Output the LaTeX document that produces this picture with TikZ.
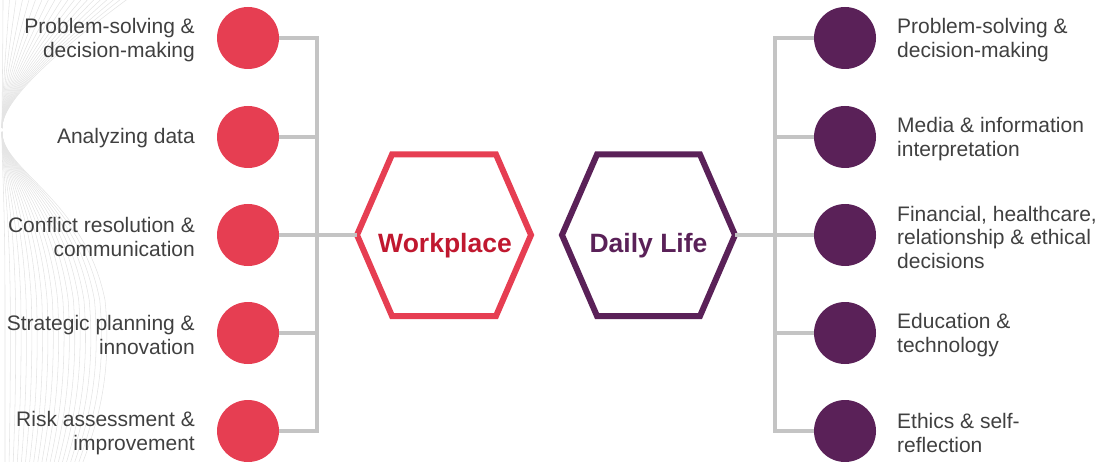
\documentclass[tikz,border=0pt]{standalone}
\usepackage{fontspec}
\setmainfont{Liberation Sans}
\definecolor{wred}{HTML}{E63E52}
\definecolor{wredtext}{HTML}{C0182F}
\definecolor{dpurple}{HTML}{5A2158}
\definecolor{linkgrey}{HTML}{C4C4C4}
\definecolor{labelgrey}{HTML}{404040}
\definecolor{wavegrey}{HTML}{E4E4E4}
\tikzset{
  dot/.style={circle, minimum size=62pt, inner sep=0pt},
  reddot/.style={dot, fill=wred},
  purpledot/.style={dot, fill=dpurple},
  link/.style={draw=linkgrey, line width=4pt, line join=miter},
  hexframe/.style={line width=6pt, line join=miter},
  label/.style={text=labelgrey, inner sep=0pt, font=\fontsize{21}{23.5}\selectfont},
  leftlabel/.style={label, anchor=east, align=right},
  rightlabel/.style={label, anchor=west, align=left},
  hubtitle/.style={inner sep=0pt, anchor=base, font=\fontsize{26.5}{30}\selectfont\bfseries},
  wave/.style={draw=wavegrey, line width=0.55pt}
}
\begin{document}
\begin{tikzpicture}[x=1pt,y=-1pt]
\useasboundingbox (0,0) rectangle (1107,462);

% faint line-art ribbon in the left margin
\begin{scope}
\clip (0,0) rectangle (1107,462);
\foreach \i in {0,...,19}{
  \pgfmathsetmacro{\s}{\i/19}
  \draw[wave] (2,128) .. controls (2,100) and ({3+55*\s},50) .. ({3+130*\s},-5);
  \draw[wave] (2,132) .. controls (2,170) and ({5+80*\s},200) .. ({5+100*\s},300)
              .. controls ({5+108*\s},380) and ({5+90*\s},430) .. ({5+75*\s},470);
}
\end{scope}

% hexagon hubs
\draw[hexframe, draw=wred] (357,235) coordinate (wL) -- (392,154.5) -- (496,154.5)
  -- (531,235) coordinate (wR) -- (496,316) -- (392,316) -- cycle;
\node[hubtitle, text=wredtext] (wtitle) at (445,252) {Workplace};

\draw[hexframe, draw=dpurple] (562,235) coordinate (dL) -- (597,154.5) -- (700,154.5)
  -- (735,235) coordinate (dR) -- (700,316) -- (597,316) -- cycle;
\node[hubtitle, text=dpurple] (dtitle) at (648.5,252) {Daily Life};

% bus coordinates
\coordinate (lbus) at (317,235);
\coordinate (rbus) at (775,235);

% workplace branch
\foreach \k/\y in {1/38,2/137,3/235,4/333,5/431}
  \node[reddot] (l\k) at (248,\y) {};
\draw[link] (l1.east) -| (lbus) |- (l5.east);
\foreach \k in {2,3,4} \draw[link] (l\k.east) -- (l\k.east -| lbus);
\draw[link] (lbus) -- (wL);

\node[leftlabel] (lt1) at (195,40) {Problem-solving \&\\decision-making};
\node[leftlabel] (lt2) at (195,138.5) {Analyzing data};
\node[leftlabel] (lt3) at (195,237) {Conflict resolution \&\\communication};
\node[leftlabel] (lt4) at (195,335) {Strategic planning \&\\innovation};
\node[leftlabel] (lt5) at (195,433) {Risk assessment \&\\improvement};

% daily-life branch
\foreach \k/\y in {1/38,2/137,3/235,4/333,5/431}
  \node[purpledot] (r\k) at (845,\y) {};
\draw[link] (r1.west) -| (rbus) |- (r5.west);
\foreach \k in {2,3,4} \draw[link] (r\k.west) -- (r\k.west -| rbus);
\draw[link] (dR) -- (rbus);

\node[rightlabel] (rt1) at (897,40) {Problem-solving \&\\decision-making};
\node[rightlabel] (rt2) at (897,139) {Media \& information\\interpretation};
\node[rightlabel] (rt3) at (897,237) {Financial, healthcare,\\relationship \& ethical\\decisions};
\node[rightlabel] (rt4) at (897,335) {Education \&\\technology};
\node[rightlabel] (rt5) at (897,433) {Ethics \& self-\\reflection};
\end{tikzpicture}
\end{document}
